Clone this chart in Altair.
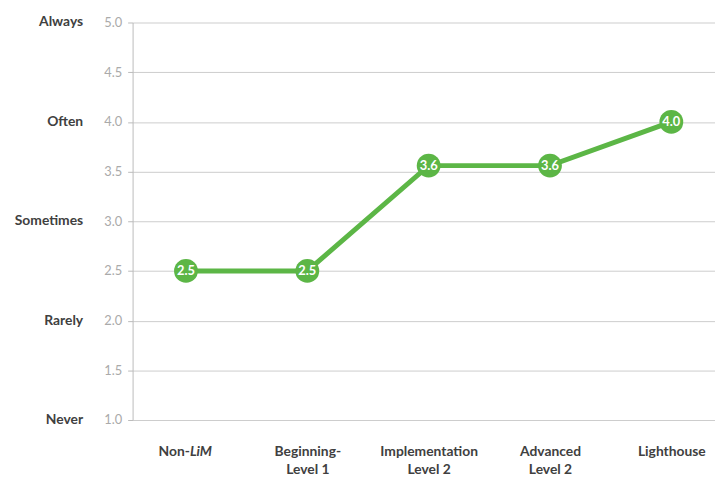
import altair as alt
import pandas as pd

categories = ["Non-LiM", "Beginning-\nLevel 1", "Implementation\nLevel 2", "Advanced\nLevel 2", "Lighthouse"]
values = [2.5, 2.5, 3.56, 3.56, 4.0]
value_labels = ["2.5", "2.5", "3.6", "3.6", "4.0"]
scale_values = [1, 2, 3, 4, 5]
scale_words = ["Never", "Rarely", "Sometimes", "Often", "Always"]
y_ticks = [1.0, 1.5, 2.0, 2.5, 3.0, 3.5, 4.0, 4.5, 5.0]

GREEN = "#5cb646"
FONT = "Lato"
DARK = "#404040"

df = pd.DataFrame({"cat": categories, "val": values, "lab": value_labels})
words = pd.DataFrame({"v": scale_values, "w": scale_words})
first = pd.DataFrame({"cat": [categories[0]], "a": ["Non-"], "b": ["LiM"]})

W, H = 589, 402

xscale = alt.Scale(type="point", domain=categories, padding=0.4, align=0.55)
yscale = alt.Scale(domain=[1, 5], nice=False, zero=False)

x_enc = alt.X("cat:N", scale=xscale, sort=categories, axis=alt.Axis(
    title=None, ticks=False, domain=False, grid=False,
    labelAngle=0, labelFont=FONT, labelFontSize=14, labelFontWeight="bold",
    labelColor=DARK, labelPadding=25, labelBaseline="top", labelLineHeight=18,
    labelExpr="datum.value == 'Non-LiM' ? '' : split(datum.value, '\\n')"))
y_enc = alt.Y("val:Q", scale=yscale, axis=alt.Axis(
    title=None, values=y_ticks, format=".1f", grid=True, gridColor="#cccccc",
    domainColor="#bbbbbb", tickColor="#bbbbbb", tickSize=5, labelPadding=6,
    labelFont=FONT, labelFontSize=13, labelColor="#aaaaaa"))

base = alt.Chart(df)
line = base.mark_line(color=GREEN, strokeWidth=5).encode(x=x_enc, y=y_enc)
pts = base.mark_circle(color=GREEN, size=580, opacity=1).encode(
    x=alt.X("cat:N", scale=xscale, sort=categories), y=alt.Y("val:Q", scale=yscale))
txt = base.mark_text(color="white", font=FONT, fontSize=13, fontWeight="bold",
                     baseline="middle", align="center").encode(
    x=alt.X("cat:N", scale=xscale, sort=categories), y=alt.Y("val:Q", scale=yscale),
    text="lab:N")

wl = alt.Chart(words).mark_text(align="right", baseline="middle", font=FONT, fontSize=14,
                                fontWeight="bold", color=DARK).encode(
    x=alt.value(-50), y=alt.Y("v:Q", scale=yscale), text="w:N")

fa = alt.Chart(first).mark_text(align="right", baseline="top", font=FONT, fontSize=14,
                                fontWeight="bold", color=DARK, dx=4).encode(
    x=alt.X("cat:N", scale=xscale, sort=categories), y=alt.value(H + 25), text="a:N")
fb = alt.Chart(first).mark_text(align="left", baseline="top", font=FONT, fontSize=14,
                                fontWeight="bold", fontStyle="italic", color=DARK, dx=4).encode(
    x=alt.X("cat:N", scale=xscale, sort=categories), y=alt.value(H + 25), text="b:N")

chart = alt.layer(line, pts, txt, wl, fa, fb).properties(
    width=W, height=H,
    autosize=alt.AutoSizeParams(type="none"),
    padding={"left": 126, "top": 12, "right": 0, "bottom": 59},
).configure_view(stroke=None)

chart.save("out.html", embed_options={"renderer": "svg", "actions": False})
